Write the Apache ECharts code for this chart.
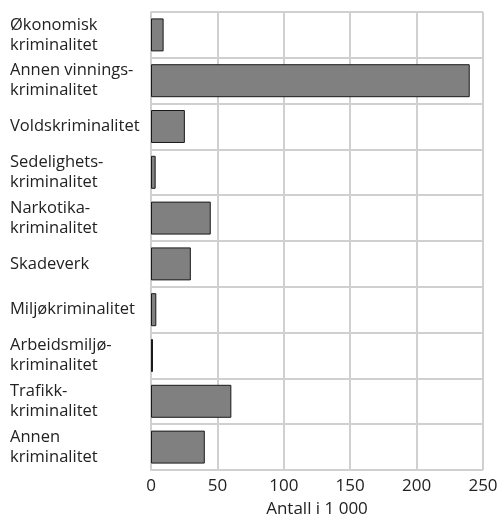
<!DOCTYPE html>
<html>
<head>
<meta charset="utf-8">
<script src="https://cdn.jsdelivr.net/npm/echarts@6/dist/echarts.min.js"></script>
<style>
  html, body { margin: 0; padding: 0; background: #fff; }
  #chart { width: 501px; height: 514px; }
</style>
</head>
<body>
<div id="chart"></div>
<script>
// kategorier, fra topp til bunn
const categories = [
  'Økonomisk\nkriminalitet',
  'Annen vinnings-\nkriminalitet',
  'Voldskriminalitet',
  'Sedelighets-\nkriminalitet',
  'Narkotika-\nkriminalitet',
  'Skadeverk',
  'Miljøkriminalitet',
  'Arbeidsmiljø-\nkriminalitet',
  'Trafikk-\nkriminalitet',
  'Annen\nkriminalitet',
]
// antall i 1 000
const values = [9.5, 240, 25.5, 3.5, 45, 30, 4, 1.5, 60.5, 40.5]
const xTicks = [0, 250, 50]

const gridColor = '#d0d0d0'
const font = 'Open Sans, Noto Sans, sans-serif'

const chart = echarts.init(document.getElementById('chart'))
chart.setOption({
  animation: false,
  grid: {
    left: 151,
    right: 18,
    top: 12,
    bottom: 44,
    outerBoundsMode: 'none',
  },
  xAxis: {
    type: 'value',
    min: xTicks[0],
    max: xTicks[1],
    interval: xTicks[2],
    name: 'Antall i 1 000',
    nameLocation: 'middle',
    nameGap: 31,
    nameTextStyle: { color: '#222', fontSize: 17, fontFamily: font },
    axisLine: { show: false },
    axisTick: { show: false },
    axisLabel: { color: '#222', fontSize: 17, fontFamily: font, margin: 8 },
    splitLine: { show: true, lineStyle: { color: gridColor, width: 2 } },
  },
  yAxis: {
    type: 'category',
    inverse: true,
    data: categories,
    axisLine: { show: true, lineStyle: { color: gridColor, width: 2 } },
    axisTick: { show: false },
    axisLabel: {
      color: '#222',
      fontSize: 16.5,
      fontFamily: font,
      align: 'left',
      margin: 141,
      lineHeight: 20,
    },
    splitLine: { show: true, lineStyle: { color: gridColor, width: 2 } },
  },
  series: [
    {
      type: 'bar',
      data: values,
      barCategoryGap: '28%',
      itemStyle: {
        color: '#808080',
        borderColor: '#1a1a1a',
        borderWidth: 1,
      },
    },
  ],
})
</script>
</body>
</html>
